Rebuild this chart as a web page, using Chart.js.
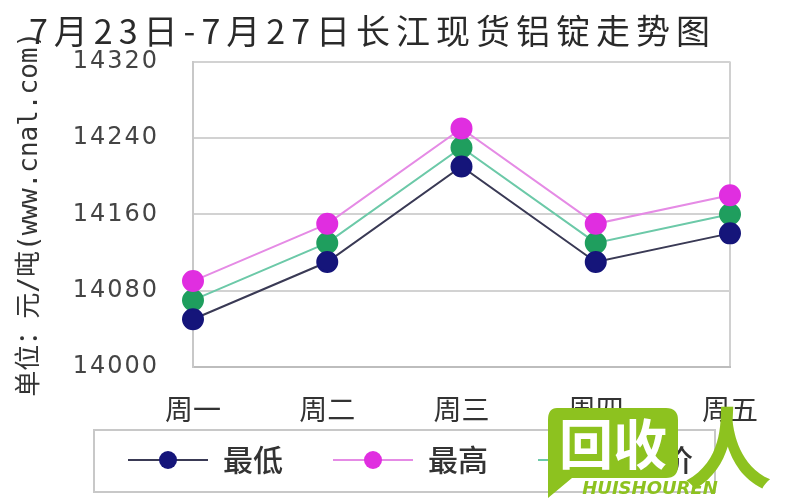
<!DOCTYPE html>
<html>
<head>
<meta charset="utf-8">
<script src="https://cdn.jsdelivr.net/npm/chart.js@4/dist/chart.umd.min.js"></script>
<style>
  html, body { margin: 0; padding: 0; background: #fff; }
  #wrap { width: 800px; height: 500px; }
</style>
</head>
<body>
<div id="wrap"><canvas id="myChart"></canvas></div>
<script>
// data
var days = ['周一', '周二', '周三', '周四', '周五'];
var lowPrices = [14050, 14110, 14210, 14110, 14140];
var highPrices = [14090, 14150, 14250, 14150, 14180];
var avgPrices = [14070, 14130, 14230, 14130, 14160];
var seriesNames = ['最低', '最高', '均价'];
var yMin = 14000, yMax = 14320, yStep = 80;

var cjk = '"Noto Sans CJK SC", "DejaVu Sans", sans-serif';
var mono = '"DejaVu Sans Mono", "Noto Sans CJK SC", monospace';

// line-dot-line sample for the legend
function legendIcon(line, fill) {
	var c = document.createElement('canvas');
	c.width = 122;
	c.height = 24;
	var g = c.getContext('2d');
	g.strokeStyle = line;
	g.lineWidth = 2;
	g.beginPath();
	g.moveTo(42, 12);
	g.lineTo(122, 12);
	g.stroke();
	g.fillStyle = fill;
	g.beginPath();
	g.arc(82, 12, 9, 0, Math.PI * 2);
	g.fill();
	return c;
}

var styles = [
	{ line: '#3a3a55', dot: '#15157a' },
	{ line: '#e58be5', dot: '#e02ee0' },
	{ line: '#6cc9a8', dot: '#1f9e5e' }
];

// wrap a draw method so its text gets some letter spacing
function spaced(obj, name, px) {
	if (!obj || obj['_sp_' + name]) return;
	var orig = obj[name];
	obj[name] = function() {
		var ctx = this.ctx;
		ctx.save();
		ctx.letterSpacing = px + 'px';
		orig.apply(this, arguments);
		ctx.restore();
	};
	obj['_sp_' + name] = true;
}

var extras = {
	id: 'extras',
	afterLayout: function(chart) {
		// original legend sits a little right of centre
		chart.legend.left += 34;
		spaced(chart.titleBlock, 'draw', 6);
		spaced(chart.scales.y, 'drawLabels', 2);
	},
	afterDraw: function(chart) {
		var ctx = chart.ctx;
		var lg = chart.legend;
		var hb = lg.legendHitBoxes;
		ctx.save();
		if (hb && hb.length) {
			var last = hb[hb.length - 1];
			var x0 = hb[0].left + 8, x1 = last.left + last.width + 22;
			ctx.strokeStyle = '#c8c8c8';
			ctx.lineWidth = 2;
			ctx.strokeRect(x0, lg.top - 7, x1 - x0, lg.bottom - lg.top + 14);
		}
		// watermark logo
		var green = '#8dc21f';
		ctx.fillStyle = green;
		ctx.beginPath();
		ctx.moveTo(557, 408);
		ctx.lineTo(666, 408);
		ctx.quadraticCurveTo(678, 408, 678, 420);
		ctx.lineTo(678, 466);
		ctx.quadraticCurveTo(678, 478, 666, 478);
		ctx.lineTo(572, 478);
		ctx.lineTo(548, 498);
		ctx.lineTo(548, 420);
		ctx.quadraticCurveTo(548, 408, 557, 408);
		ctx.closePath();
		ctx.fill();
		ctx.fillStyle = '#fff';
		ctx.font = 'bold 54px ' + cjk;
		ctx.textAlign = 'center';
		ctx.textBaseline = 'middle';
		ctx.fillText('回收', 613, 444);
		ctx.fillStyle = green;
		ctx.font = 'bold 88px ' + cjk;
		ctx.fillText('人', 728, 448);
		ctx.font = 'italic bold 18px "DejaVu Sans", sans-serif';
		ctx.fillText('HUISHOUREN', 650, 489);
		ctx.restore();
	}
};

var datasets = [lowPrices, highPrices, avgPrices].map(function(vals, i) {
	return {
		label: seriesNames[i],
		data: vals,
		borderColor: styles[i].line,
		borderWidth: 2,
		pointBackgroundColor: styles[i].dot,
		pointBorderColor: styles[i].dot,
		pointRadius: 10,
		pointHoverRadius: 10,
		tension: 0
	};
});

new Chart(document.getElementById('myChart'), {
	type: 'line',
	data: { labels: days, datasets: datasets },
	options: {
		responsive: true,
		maintainAspectRatio: false,
		animation: false,
		events: [],
		layout: { padding: { left: 15, right: 70, top: 8, bottom: 15 } },
		plugins: {
			title: {
				display: true,
				text: '7月23日-7月27日长江现货铝锭走势图',
				color: '#2a2a2a',
				font: { family: cjk, size: 34, weight: 'normal', lineHeight: 1.34 },
				padding: { top: 0, bottom: 8 }
			},
			legend: {
				position: 'bottom',
				labels: {
					usePointStyle: true,
					pointStyleWidth: 122,
					padding: 8,
					color: '#333',
					font: { family: cjk, size: 30, weight: '500' },
					generateLabels: function(chart) {
						var items = Chart.defaults.plugins.legend.labels.generateLabels(chart);
						items.forEach(function(it, i) {
							it.pointStyle = legendIcon(styles[i].line, styles[i].dot);
						});
						return items;
					}
				}
			},
			tooltip: { enabled: false }
		},
		scales: {
			x: {
				offset: false,
				border: { color: '#bdbdbd', width: 2 },
				grid: {
					drawTicks: false,
					lineWidth: 2,
					color: function(c) { return c.index === days.length - 1 ? '#d0d0d0' : 'rgba(0,0,0,0)'; }
				},
				ticks: {
					padding: 26,
					color: '#333',
					font: { family: cjk, size: 28 }
				},
				afterFit: function(s) { s.height = 70; }
			},
			y: {
				min: yMin,
				max: yMax,
				border: { color: '#c8c8c8', width: 2 },
				grid: { drawTicks: false, color: '#d2d2d2', lineWidth: 2 },
				ticks: {
					stepSize: yStep,
					padding: 34,
					color: '#444',
					font: { family: '"DejaVu Sans", sans-serif', size: 24 },
					callback: function(v) { return String(v); }
				},
				title: {
					display: true,
					text: '单位：元/吨(www.cnal.com)',
					color: '#333',
					font: { family: mono, size: 26 },
					padding: 0
				},
				afterFit: function(s) { s.width = 178; }
			}
		}
	},
	plugins: [extras]
});
</script>
</body>
</html>
